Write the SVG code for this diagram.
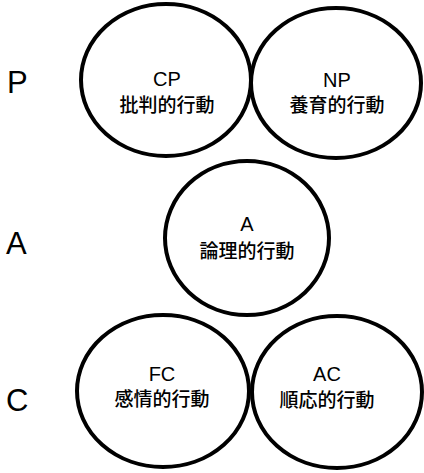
<svg xmlns="http://www.w3.org/2000/svg" width="424" height="473" viewBox="0 0 424 473">
<style>
.c{fill:none;stroke:#000;stroke-width:4}
.t{font-family:"Liberation Sans","Noto Sans CJK JP",sans-serif;font-size:20px;fill:#000;text-anchor:middle}
.j{font-family:"Noto Sans CJK JP","Liberation Sans",sans-serif;font-size:19px;font-weight:500;fill:#000;text-anchor:middle}
.l{font-family:"Liberation Sans",sans-serif;font-size:31px;fill:#000}
</style>
<rect width="424" height="473" fill="#fff"/>
<g id="labels">
<text class="l" x="7" y="93">P</text>
<text class="l" x="6" y="254">A</text>
<text class="l" x="6" y="411">C</text>
</g>
<g id="CP">
<ellipse class="c" cx="166" cy="80" rx="85" ry="76"/>
<text class="t" x="167" y="86">CP</text>
<text class="j" x="167" y="112">批判的行動</text>
</g>
<g id="NP">
<ellipse class="c" cx="336" cy="83" rx="85" ry="75"/>
<text class="t" x="337" y="87">NP</text>
<text class="j" x="337" y="112">養育的行動</text>
</g>
<g id="A">
<ellipse class="c" cx="247" cy="238" rx="82" ry="77"/>
<text class="t" x="247" y="231">A</text>
<text class="j" x="247" y="258">論理的行動</text>
</g>
<g id="FC">
<ellipse class="c" cx="163" cy="391" rx="86" ry="76"/>
<text class="t" x="162" y="381">FC</text>
<text class="j" x="162" y="406">感情的行動</text>
</g>
<g id="AC">
<ellipse class="c" cx="337" cy="392" rx="85" ry="76"/>
<text class="t" x="327" y="381">AC</text>
<text class="j" x="327" y="407">順応的行動</text>
</g>
<g id="connectors"/>
</svg>
